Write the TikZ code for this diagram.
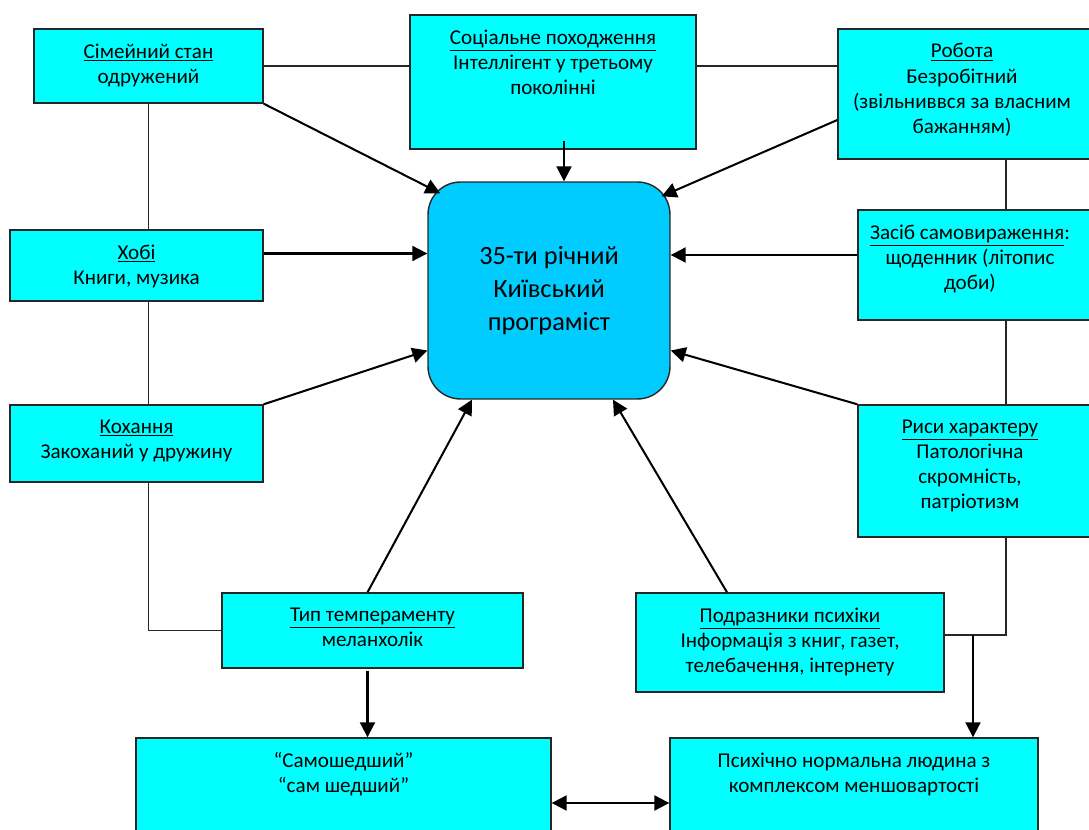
\documentclass[tikz,border=0pt]{standalone}
\usepackage{fontspec}
\setmainfont{Carlito}
\usetikzlibrary{arrows.meta,calc}
\definecolor{boxcyan}{RGB}{0,255,255}
\definecolor{midblue}{RGB}{0,204,255}

\begin{document}
\begin{tikzpicture}[x=0.02cm, y=-0.02cm,
    box/.style={draw=black!85, line width=0.8pt, fill=boxcyan, inner sep=0pt},
    txt/.style={anchor=north, align=center, inner sep=0pt, yshift=-8.5pt, font=\fontsize{12}{14.3}\selectfont},
    link/.style={draw=black!85, line width=0.9pt},
    arr/.style={line width=1.15pt, -{Triangle[length=0.3cm, width=0.3cm]}},
    darr/.style={line width=1.15pt, {Triangle[length=0.3cm, width=0.3cm]}-{Triangle[length=0.3cm, width=0.3cm]}}]
  \useasboundingbox (0,0) rectangle (1089,830);

  % boxes
  \node[box, minimum width=4.58cm, minimum height=1.48cm] (fam) at (148.5,66) {};
  \node[box, minimum width=5.72cm, minimum height=2.68cm] (soc) at (553,82) {};
  \node[box, minimum width=5.08cm, minimum height=2.60cm] (job) at (965,94) {};
  \node[box, minimum width=5.06cm, minimum height=1.42cm] (hob) at (136.5,265.5) {};
  \node[box, minimum width=4.68cm, minimum height=2.20cm] (self) at (975,265) {};
  \node[box, minimum width=5.06cm, minimum height=1.54cm] (love) at (136.5,443.5) {};
  \node[box, minimum width=4.68cm, minimum height=2.64cm] (trait) at (975,471) {};
  \node[box, minimum width=6.02cm, minimum height=1.50cm] (temp) at (372.5,630.5) {};
  \node[box, minimum width=6.16cm, minimum height=1.98cm] (irr) at (790,642.5) {};
  \node[box, minimum width=8.30cm, minimum height=2.24cm] (crazy) at (343.5,794) {};
  \node[box, minimum width=7.36cm, minimum height=2.24cm] (norm) at (854,794) {};
  \node[box, fill=midblue, rounded corners=0.65cm, minimum width=4.84cm, minimum height=4.34cm,
        align=center, font=\fontsize{15}{18.8}\selectfont] (prog) at (549,290.5)
        {35-ти річний\\Київський\\програміст};

  % texts
  \node[txt] (fam-t) at (fam.north) {\underline{Сімейний стан}\\одружений};
  \node[txt] (soc-t) at (soc.north) {\underline{Соціальне походження}\\Інтеллігент у третьому\\поколінні};
  \node[txt] (job-t) at ($(job.north)+(-3,0)$) {\underline{Робота}\\Безробітний\\(звільниввся за власним\\бажанням)};
  \node[txt] (hob-t) at (hob.north) {\underline{Хобі}\\Книги, музика};
  \node[txt] (self-t) at ($(self.north)+(-5,0)$) {\underline{Засіб самовираження}:\\щоденник (літопис\\доби)};
  \node[txt] (love-t) at (love.north) {\underline{Кохання}\\Закоханий у дружину};
  \node[txt] (trait-t) at ($(trait.north)+(-5,0)$) {\underline{Риси характеру}\\Патологічна\\скромність,\\патріотизм};
  \node[txt] (temp-t) at (temp.north) {\underline{Тип темпераменту}\\меланхолік};
  \node[txt] (irr-t) at (irr.north) {\underline{Подразники психіки}\\Інформація з книг, газет,\\телебачення, інтернету};
  \node[txt] (crazy-t) at (crazy.north) {“Самошедший”\\“сам шедший”};
  \node[txt] (norm-t) at (norm.north) {Психічно нормальна людина з\\комплексом меншовартості};

  % plain links
  \coordinate (rl) at (1006,0);
  \coordinate (join) at (1006,635);
  \coordinate (drop) at (973,635);
  \draw[link] (fam.east) -- (soc.west |- fam.east) (soc.east |- fam.east) -- (job.west |- fam.east);
  \draw[link] (fam.south) -- (fam.south |- hob.north);
  \draw[link] (hob.south -| fam.south) -- (love.north -| fam.south);
  \draw[link] (love.south -| fam.south) |- (temp.west);
  \draw[link] (rl |- job.south) -- (rl |- self.north);
  \draw[link] (rl |- self.south) -- (rl |- trait.north);
  \draw[link] (rl |- trait.south) -- (join) -- (join -| irr.east);

  % arrows into the centre
  \draw[arr] (fam.south east) -- ($(prog.north west)+(13,12)$);
  \coordinate (s1) at ($(soc.south)+(11,-9)$);
  \draw[arr] (s1) -- (s1 |- prog.north);
  \draw[arr] ($(job.west)+(0,26)$) -- ($(prog.north east)+(-9,15)$);
  \coordinate (h1) at ($(hob.east)+(0,-12)$);
  \draw[arr] (h1) -- (prog.west |- h1);
  \coordinate (z1) at ($(self.west)+(0,-10)$);
  \draw[arr] (z1) -- (prog.east |- z1);
  \draw[arr] (love.north east) -- ($(prog.west)+(0,60)$);
  \draw[arr] (trait.north west) -- ($(prog.east)+(0,60)$);
  \draw[arr] ($(temp.north)+(-5,0)$) -- ($(prog.south)+(-77,0)$);
  \draw[arr] ($(irr.north)+(-63,0)$) -- ($(prog.south)+(64,0)$);

  % bottom row
  \coordinate (t1) at ($(temp.south)+(-5,2)$);
  \draw[arr] (t1) -- (t1 |- crazy.north);
  \draw[arr] (drop) -- (drop |- norm.north);
  \coordinate (c1) at ($(crazy.east)+(0,9)$);
  \draw[darr] (c1) -- (norm.west |- c1);
\end{tikzpicture}
\end{document}
